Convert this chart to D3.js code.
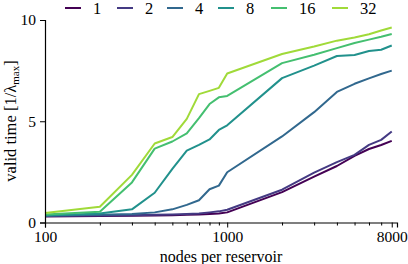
<!DOCTYPE html>
<html>
<head>
<meta charset="utf-8">
<script src="https://cdn.jsdelivr.net/npm/d3@7"></script>
<style>
  html, body { margin: 0; padding: 0; background: #fff; }
  text { font-family: "Liberation Serif", "DejaVu Serif", serif; fill: #000; }
</style>
</head>
<body>
<div id="chart"></div>
<script>
// x 取值：每个 reservoir 的节点数
const nodes = [100, 200, 300, 400, 500, 600, 700, 800, 900, 1000, 2000, 3000, 4000, 5000, 6000, 7000, 8000];

// 各系列的 valid time
const series1  = [0.30, 0.32, 0.33, 0.35, 0.36, 0.38, 0.40, 0.42, 0.44, 0.50, 1.50, 2.27, 2.79, 3.29, 3.63, 3.83, 4.03];
const series2  = [0.32, 0.34, 0.36, 0.38, 0.40, 0.42, 0.45, 0.50, 0.55, 0.63, 1.62, 2.46, 2.98, 3.34, 3.83, 4.08, 4.49];
const series4  = [0.35, 0.38, 0.42, 0.50, 0.65, 0.87, 1.10, 1.64, 1.82, 2.48, 4.25, 5.45, 6.45, 6.85, 7.12, 7.33, 7.50];
const series8  = [0.35, 0.45, 0.65, 1.47, 2.65, 3.55, 3.83, 4.10, 4.57, 4.80, 7.13, 7.75, 8.22, 8.27, 8.47, 8.53, 8.74];
const series16 = [0.40, 0.53, 1.98, 3.65, 4.00, 4.40, 5.15, 5.85, 6.18, 6.25, 7.87, 8.28, 8.61, 8.86, 9.03, 9.17, 9.31];
const series32 = [0.47, 0.78, 2.35, 3.90, 4.22, 5.12, 6.34, 6.50, 6.65, 7.36, 8.32, 8.69, 8.98, 9.14, 9.30, 9.48, 9.63];

const seriesNames = ["1", "2", "4", "8", "16", "32"];
const seriesValues = [series1, series2, series4, series8, series16, series32];
const colors = ["#440154", "#443a83", "#31688e", "#21918c", "#44bf70", "#a0da39"];

const xTickLabels = [100, 1000, 8000];
const xMinorTicks = [200, 300, 400, 500, 600, 700, 800, 900, 2000, 3000, 4000, 5000, 6000, 7000];
const yTicks = [0, 5, 10];

// 尺寸
const width = 408;
const height = 264;
const fontSize = "16px";

const svg = d3.select("#chart").append("svg")
  .attr("width", width)
  .attr("height", height);

const x = d3.scaleLog().domain([100, 8550]).range([45, 397]);
const y = d3.scaleLinear().domain([0, 10]).range([222.5, 20]);

// 线
const line = d3.line()
  .x((d, i) => x(nodes[i]))
  .y(d => y(d));

svg.append("g")
  .selectAll("path")
  .data(seriesValues)
  .enter()
  .append("path")
  .attr("d", d => line(d))
  .attr("fill", "none")
  .attr("stroke", (d, i) => colors[i])
  .attr("stroke-width", 2)
  .attr("stroke-linejoin", "round");

// x 轴
const xAxis = svg.append("g").attr("transform", `translate(0, ${y(0)})`);
xAxis.call(d3.axisBottom(x).tickValues(xTickLabels).tickFormat(d3.format("d")).tickSize(5).tickPadding(3));
const xMinor = svg.append("g").attr("transform", `translate(0, ${y(0)})`);
xMinor.call(d3.axisBottom(x).tickValues(xMinorTicks).tickFormat("").tickSize(3));
xMinor.select(".domain").remove();

// y 轴
const yAxis = svg.append("g").attr("transform", `translate(${x(100)}, 0)`);
yAxis.call(d3.axisLeft(y).tickValues(yTicks).tickSize(5).tickPadding(4));

svg.selectAll(".domain").attr("stroke", "#000").attr("stroke-width", 1.2);
svg.selectAll(".tick line").attr("stroke", "#000").attr("stroke-width", 1);
svg.selectAll(".tick text")
  .style("font-family", '"Liberation Serif", "DejaVu Serif", serif')
  .style("font-size", "15.5px")
  .attr("fill", "#000");

// 轴标题
svg.append("text")
  .attr("x", 221)
  .attr("y", 261.5)
  .attr("text-anchor", "middle")
  .style("font-size", fontSize)
  .text("nodes per reservoir");

const yLabel = svg.append("text")
  .attr("transform", `translate(16, 121) rotate(-90)`)
  .attr("text-anchor", "middle")
  .style("font-size", "16.5px");
yLabel.append("tspan").text("valid time [1/λ");
yLabel.append("tspan").attr("dy", 3).style("font-size", "11px").text("max");
yLabel.append("tspan").attr("dy", -3).text("]");

// 图例
const legendX = [65, 117, 167, 218, 271, 332];
const legend = svg.append("g")
  .selectAll("g")
  .data(seriesNames)
  .enter()
  .append("g")
  .attr("transform", (d, i) => `translate(${legendX[i]}, 8)`);

legend.append("line")
  .attr("x1", 0).attr("x2", 16)
  .attr("y1", 0).attr("y2", 0)
  .attr("stroke", (d, i) => colors[i])
  .attr("stroke-width", 2);

legend.append("text")
  .attr("x", 28)
  .attr("y", 5.5)
  .style("font-size", "16.5px")
  .text(d => d);
</script>
</body>
</html>
